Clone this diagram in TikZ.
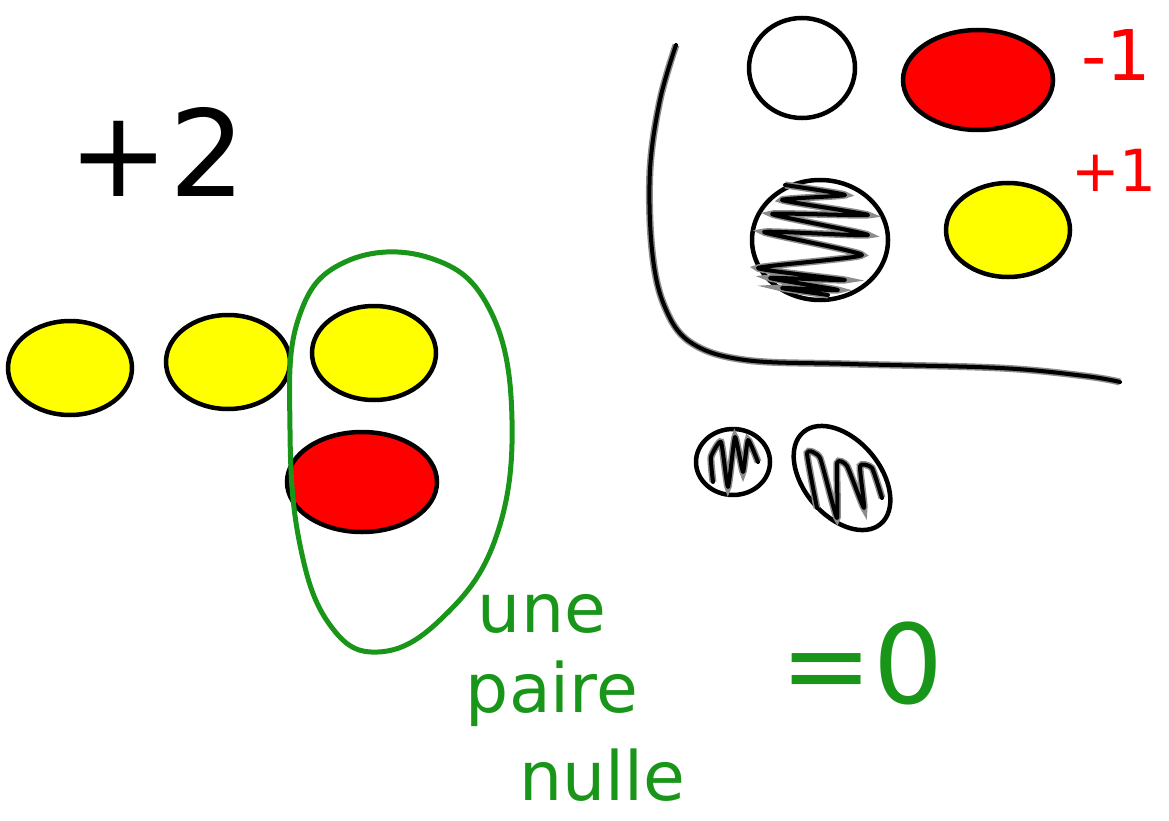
\documentclass[tikz,border=0pt]{standalone}
\usepackage{fontspec}
\setmainfont{DejaVu Sans}
\usepackage{tikz}
\usetikzlibrary{shapes.geometric, positioning}
\definecolor{penred}{RGB}{255,0,0}
\definecolor{pengreen}{RGB}{25,150,25}
\definecolor{penyellow}{RGB}{255,255,0}
\tikzset{x=1pt, y=-1pt,
  counter/.style={ellipse, draw=black, line width=4.5pt, inner sep=0pt},
  yellowc/.style={counter, fill=penyellow, minimum width=124pt, minimum height=94pt},
  redc/.style={counter, fill=penred, minimum width=150pt, minimum height=100pt},
  scribble/.style={draw=black, line width=4pt, line cap=round, line join=round,
    preaction={draw=black!45, line width=7pt}},
  greenpen/.style={draw=pengreen, line width=5pt, line cap=round, line join=round},
  hand/.style={inner sep=0pt, font=\fontsize{#1}{#1}\selectfont}}

\begin{document}
\begin{tikzpicture}
            \useasboundingbox (0,0) rectangle (1169,821);
            % left: the counters
            \node[hand=120] (plus2) at (157,152) {+2};
            \node[yellowc] (y1) at (70,368) {};
            \node[yellowc] (y2) at (228,362) {};
            \node[yellowc] (y3) at (374,353) {};
            \node[redc] (r1) at (362,482) {};
            \draw[greenpen] plot[smooth cycle, tension=0.7] coordinates {(345,262) (430,258) (490,310) (512,420)
                    (495,540) (440,620) (378,652) (330,625) (300,545) (290,430) (298,320)};
            \node[hand=68, text=pengreen] (une) at (542,614) {une};
            \node[hand=68, text=pengreen] (paire) at (552,694) {paire};
            \node[hand=68, text=pengreen] (nulle) at (602,775) {nulle};
            \node[hand=110, text=pengreen] (eq0) at (862,663) {=0};

            % right: the legend
            \draw[scribble] plot[smooth, tension=0.6] coordinates {(676,45) (660,100) (650,170) (652,250)
                    (664,305) (690,342) (745,360) (850,364) (1000,368) (1085,376) (1120,382)};
            \node[counter, fill=white, minimum width=106pt, minimum height=100pt] (w1) at (802,68) {};
            \node[redc] (r2) at (978,80) {};
            \node[counter, fill=white, minimum width=136pt, minimum height=120pt] (h1) at (820,240) {};
            \node[yellowc] (y4) at (1008,230) {};
            \node[hand=70, text=penred] (minus1) at (1116,55) {-1};
            \node[hand=58, text=penred] (plus1) at (1114,170) {+1};
            \begin{scope}[shift={(h1.center)}]
              \draw[scribble] plot[smooth, tension=0.3] coordinates {(-35,-55) (25,-45) (-38,-40) (48,-25) (-48,-26) (48,-5)
                      (-56,-8) (42,15) (-62,28) (25,40) (-50,38) (18,50) (-38,48) (8,55)};
            \end{scope}
            \node[counter, fill=white, minimum width=74pt, minimum height=66pt] (h2) at (733,462) {};
            \node[counter, fill=white, minimum width=120pt, minimum height=76pt, rotate=-50] (h3) at (842,478) {};
            \begin{scope}[shift={(h2.center)}]
              \draw[scribble] plot[smooth, tension=0.3] coordinates {(-20,20) (-22,-5) (-12,-20) (-5,25) (2,-25) (10,10)
                      (15,-22) (25,0)};
            \end{scope}
            \begin{scope}[shift={(h3.center)}]
              \draw[scribble] plot[smooth, tension=0.3] coordinates {(-25,30) (-35,-25) (-22,-20) (-5,40) (-5,-15) (5,-12)
                      (22,30) (18,-12) (30,-10) (40,20)};
            \end{scope}
        \end{tikzpicture}
\end{document}
